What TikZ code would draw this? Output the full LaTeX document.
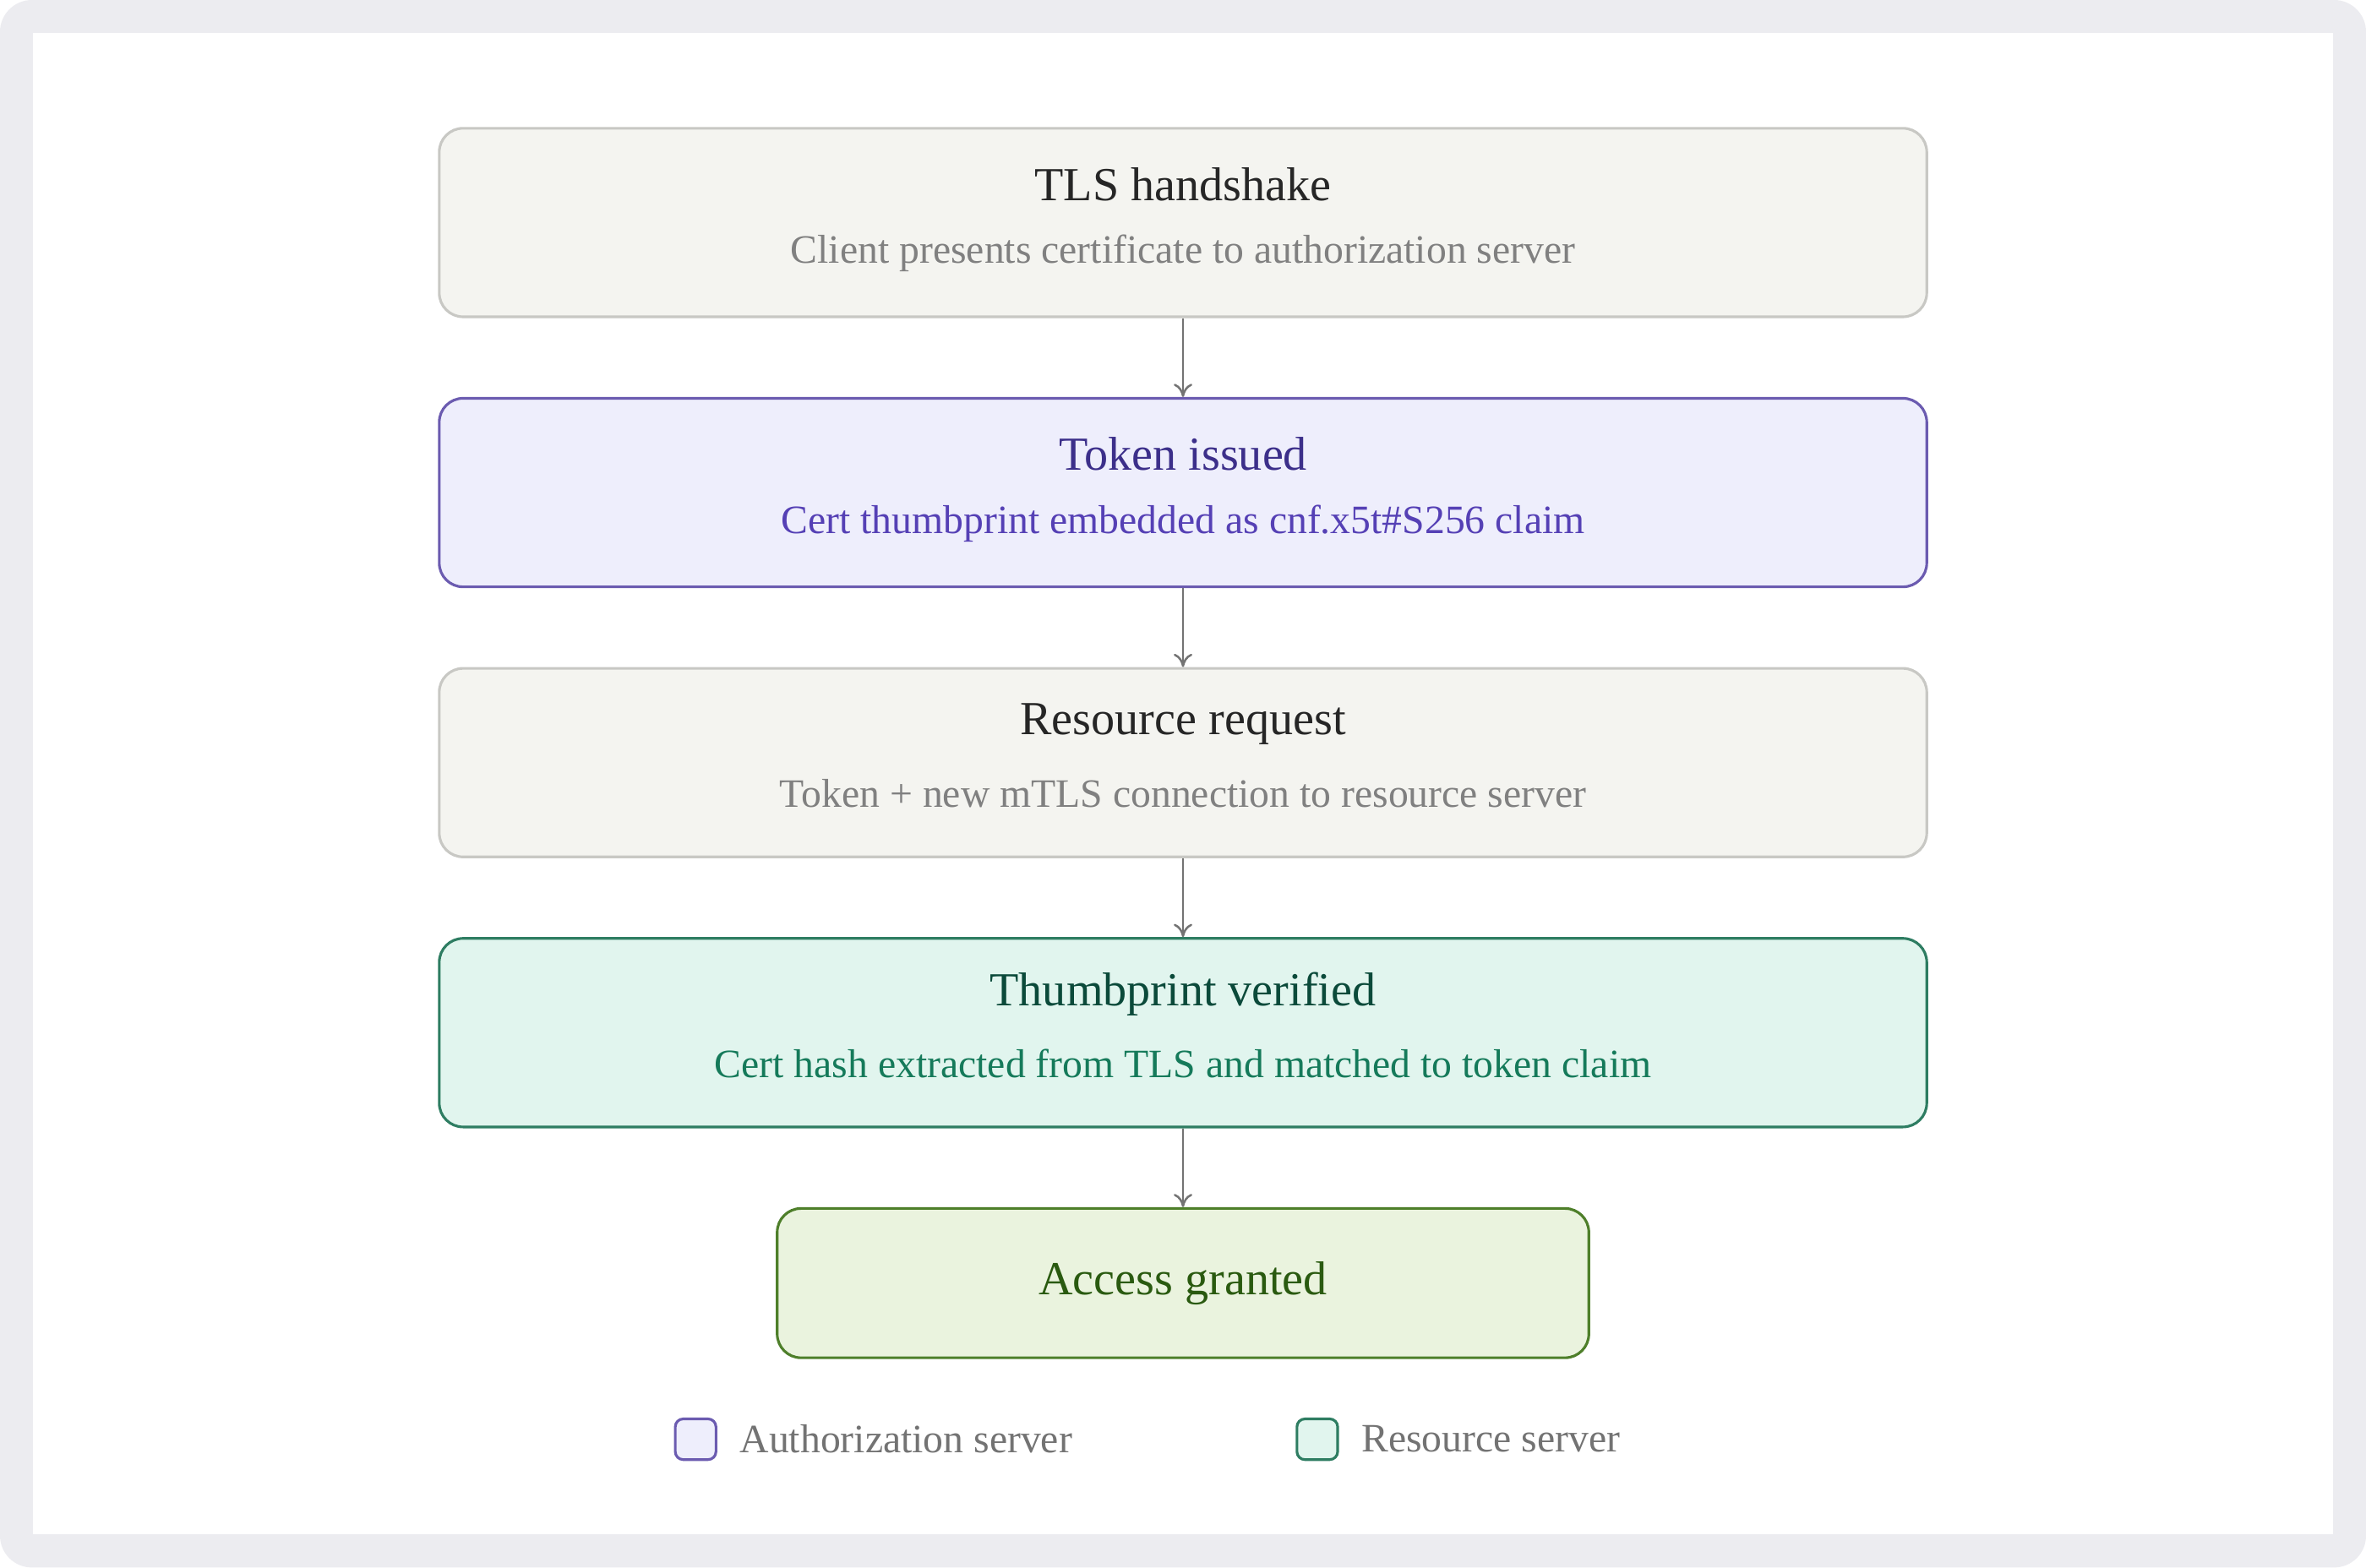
\documentclass[tikz,border=0pt]{standalone}
\usepackage{fontspec}
\setmainfont{Liberation Serif}
\usetikzlibrary{positioning, arrows.meta}
\definecolor{frame}{HTML}{ECECF0}
\definecolor{nfill}{HTML}{F4F4F0}
\definecolor{ndraw}{HTML}{C8C8C4}
\definecolor{pfill}{HTML}{EEEEFC}
\definecolor{pdraw}{HTML}{6B5BB0}
\definecolor{ptext}{HTML}{3C2F8A}
\definecolor{psub}{HTML}{5540B5}
\definecolor{gfill}{HTML}{E1F5EE}
\definecolor{gdraw}{HTML}{2E7D62}
\definecolor{gtext}{HTML}{0B4A3A}
\definecolor{gsub}{HTML}{157A5A}
\definecolor{ofill}{HTML}{EAF3DE}
\definecolor{odraw}{HTML}{4E7F2A}
\definecolor{otext}{HTML}{2A5A10}
\tikzset{
  stage/.style={draw, rounded corners=9pt, line width=1pt, minimum width=19.72cm, minimum height=2.5cm},
  title/.style={font=\fontsize{17.9}{21}\selectfont},
  sub/.style={font=\fontsize{15.2}{18}\selectfont},
  flow/.style={-{To[length=5pt,width=7pt]}, draw=gray!90!black, line width=0.8pt},
  key/.style={draw, rounded corners=3pt, line width=1pt, minimum size=0.54cm},
}
\begin{document}
\begin{tikzpicture}[x=0.02cm, y=-0.02cm]
  \fill[frame, rounded corners=12pt] (0,0) rectangle (1568,1039);
  \fill[white] (22,22) rectangle (1546,1017);
  % stages
  \node (tls) [stage, fill=nfill, draw=ndraw] at (784,147.5) {};
  \node[title, text=black!85] at (784,122) {TLS handshake};
  \node[sub, text=black!50] at (784,168) {Client presents certificate to authorization server};
  \node (tok) [stage, fill=pfill, draw=pdraw] at (784,326.5) {};
  \node[title, text=ptext] at (784,301) {Token issued};
  \node[sub, text=psub] at (784,347) {Cert thumbprint embedded as cnf.x5t\#S256 claim};
  \node (req) [stage, fill=nfill, draw=ndraw] at (784,505.5) {};
  \node[title, text=black!85] at (784,480) {Resource request};
  \node[sub, text=black!50] at (784,526) {Token + new mTLS connection to resource server};
  \node (ver) [stage, fill=gfill, draw=gdraw] at (784,684.5) {};
  \node[title, text=gtext] at (784,659) {Thumbprint verified};
  \node[sub, text=gsub] at (784,705) {Cert hash extracted from TLS and matched to token claim};
  \node (acc) [stage, fill=ofill, draw=odraw, minimum width=10.76cm, minimum height=1.98cm,
               title, text=otext] at (784,850.5) {Access granted};
  % arrows
  \draw[flow] (tls) -- (tok);
  \draw[flow] (tok) -- (req);
  \draw[flow] (req) -- (ver);
  \draw[flow] (ver) -- (acc);
  % legend
  \node (ka) [key, fill=pfill, draw=pdraw] at (461,954) {};
  \node[sub, text=black!55, right=5pt of ka] {Authorization server};
  \node (kr) [key, fill=gfill, draw=gdraw] at (873,954) {};
  \node[sub, text=black!55, right=5pt of kr] {Resource server};
\end{tikzpicture}
\end{document}
